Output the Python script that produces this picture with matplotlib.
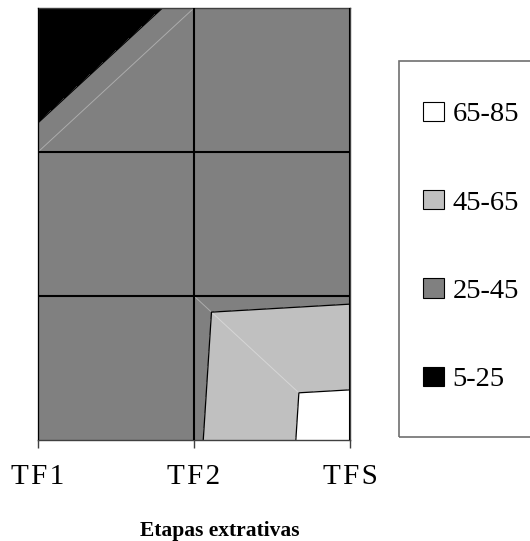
import numpy as np
import matplotlib
matplotlib.use("Agg")
import matplotlib.pyplot as plt
import matplotlib.tri as mtri
from matplotlib.patches import Patch, Rectangle

plt.rcParams["font.family"] = ["Liberation Serif", "DejaVu Serif"]

# Extraction stages along x, four sampling rows along y (bottom row first)
stages = ["TF1", "TF2", "TFS"]
row0 = [35.0, 43.0, 76.7]
row1 = [33.0, 41.0, 43.1]
row2 = [28.3, 36.0, 38.0]
row3 = [12.0, 28.3, 34.0]

levels = [5, 25, 45, 65, 85]
band_labels = ["5-25", "25-45", "45-65", "65-85"]
band_colors = ["#000000", "#808080", "#c0c0c0", "#ffffff"]

Z = np.array([row0, row1, row2, row3])
nrows, ncols = Z.shape
xs = np.arange(ncols)
ys = np.arange(nrows)
X, Y = np.meshgrid(xs, ys)


def node(r, c):
    return r * ncols + c


def spaced(text, gap="\u200a"):
    return gap.join(text)


# Split every grid cell into two triangles along the diagonal with the larger mean
triangles = []
seams = []
for r in range(nrows - 1):
    for c in range(ncols - 1):
        d1 = (Z[r, c] + Z[r + 1, c + 1]) / 2
        d2 = (Z[r, c + 1] + Z[r + 1, c]) / 2
        if d1 >= d2:
            triangles.append([node(r, c), node(r, c + 1), node(r + 1, c + 1)])
            triangles.append([node(r, c), node(r + 1, c + 1), node(r + 1, c)])
            diag = ((c, c + 1), (r, r + 1))
        else:
            triangles.append([node(r, c), node(r, c + 1), node(r + 1, c)])
            triangles.append([node(r, c + 1), node(r + 1, c + 1), node(r + 1, c)])
            diag = ((c + 1, c), (r, r + 1))
        cell = Z[r:r + 2, c:c + 2]
        if np.digitize(cell.min(), levels) != np.digitize(cell.max(), levels):
            seams.append(diag)

tri = mtri.Triangulation(X.ravel(), Y.ravel(), np.array(triangles))

fig = plt.figure(figsize=(5.30, 5.41), dpi=100)
ax = fig.add_axes([38 / 530, 101 / 541, 312 / 530, 432 / 541])

ax.tricontourf(tri, Z.ravel(), levels=levels, colors=band_colors)
for sx, sy in seams:
    ax.plot(sx, sy, color="white", alpha=0.35, lw=0.7, zorder=1.5)
ax.tricontour(tri, Z.ravel(), levels=levels[1:-1], colors="black", linewidths=0.9)

ax.set_xlim(xs[0], xs[-1])
ax.set_ylim(ys[0], ys[-1])
ax.set_xticks(xs)
ax.set_xticklabels([spaced(s) for s in stages], fontsize=21)
ax.set_yticks(ys[1:-1])
ax.set_yticklabels([])
ax.tick_params(axis="x", direction="out", length=6, width=1, color="#404040", pad=11)
ax.tick_params(axis="y", length=0)
ax.grid(True, color="black", lw=1.5)
ax.set_axisbelow(False)
for s in ax.spines.values():
    s.set_color("#404040")
    s.set_linewidth(1)

fig.text(220 / 530, 5 / 541, "Etapas extrativas", ha="center", va="baseline",
         fontsize=15.5, fontweight="bold")

handles = [Patch(facecolor=col, edgecolor="black", lw=0.8) for col in band_colors][::-1]
fig.legend(handles, band_labels[::-1], loc="center left",
           bbox_to_anchor=(423 / 530, 1 - 247 / 541), frameon=False,
           borderpad=0, borderaxespad=0, fontsize=20.5, labelspacing=2.2,
           handlelength=0.73, handleheight=0.67, handletextpad=0.3)
fig.add_artist(Rectangle((399 / 530, 1 - 437 / 541), 0.5, (437 - 61) / 541,
                         transform=fig.transFigure, fill=False,
                         edgecolor="#707070", lw=1.2))

fig.savefig("out.png", dpi=100)
